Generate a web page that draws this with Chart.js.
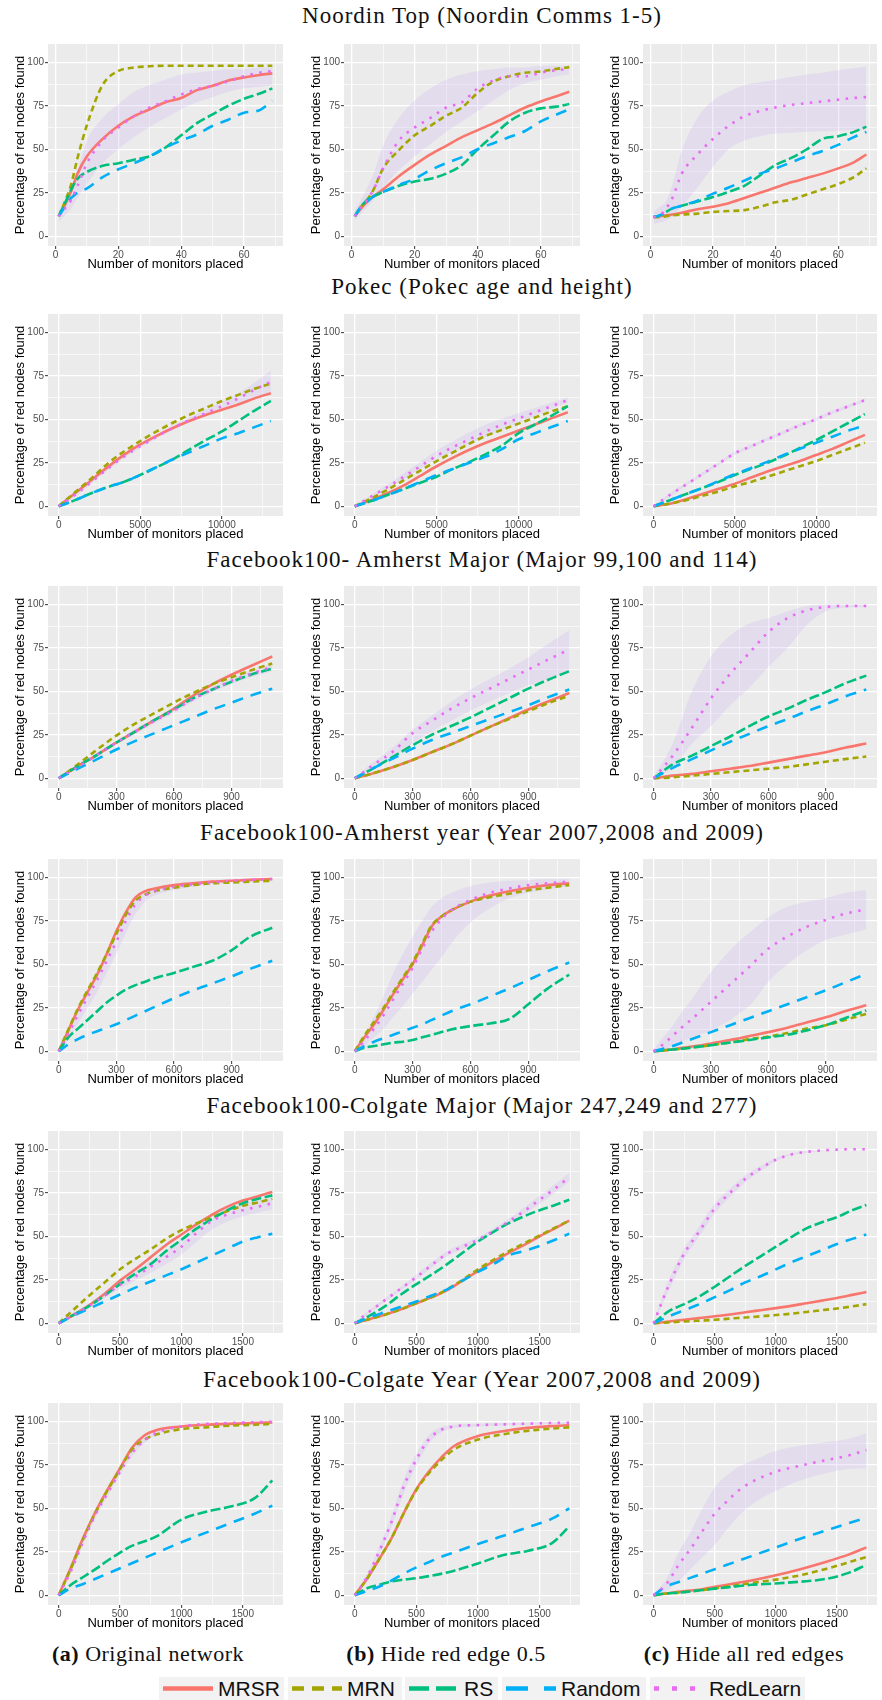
<!DOCTYPE html>
<html>
<head>
<meta charset="utf-8">
<script src="https://cdn.jsdelivr.net/npm/chart.js@4.4.1/dist/chart.umd.min.js"></script>
<style>
  body { margin: 0; background: #fff; }
  #fig { position: relative; width: 882px; height: 1700px; background: #fff; overflow: hidden; }
  #fig canvas { position: absolute; }
  .row-title, .caption {
    position: absolute; white-space: nowrap; transform: translate(-50%, -50%);
    font-family: 'Liberation Serif', 'Times New Roman', serif; color: #111;
  }
  .row-title { font-size: 23px; letter-spacing: 1px; }
  .caption { font-size: 22px; letter-spacing: 0.5px; }
  .caption b { font-weight: bold; }
  .legend-item {
    position: absolute; top: 1677px; height: 23px; background: #F2F2F2;
    display: flex; align-items: center;
    font-family: 'Liberation Sans', Arial, sans-serif; font-size: 21px; color: #111;
  }
  .legend-item svg { margin: 0 5px 0 4px; }
</style>
</head>
<body>
<div id="fig"></div>
<script>
// ---------- data ----------
const yTicks = [0, 25, 50, 75, 100];

// Noordin Top
const noordinX = [1, 3, 5, 7, 10, 15, 20, 25, 30, 35, 40, 45, 50, 55, 60, 65, 69];
const noordinXTicks = [0, 20, 40, 60];
const noordinA_MRSR = [11.5, 18, 26, 36, 46, 56, 63.5, 69, 73, 77, 79.5, 84, 86.5, 89.5, 91.3, 92.7, 93.6];
const noordinA_MRN = [11.5, 20, 30, 45, 64, 87, 95, 97, 97.7, 98, 98, 98, 98, 98, 98, 98, 98];
const noordinA_RS = [11.5, 19, 27, 33, 37, 40.5, 42, 44, 46, 51, 58, 65, 70, 75, 79, 82, 85];
const noordinA_Random = [11.5, 17, 22, 25, 27.5, 34, 38.5, 42, 46, 51, 55, 58.5, 63.5, 67, 71, 72.5, 77.8];
const noordinA_RedLearn = [11.5, 16, 21, 29, 42, 55, 62.5, 69, 74, 77.5, 81.5, 84.5, 86.5, 89, 92, 94, 95];
const noordinA_lo = [8, 12, 16, 22, 30, 42, 50, 57, 63, 68, 73, 77, 80, 83, 85, 86, 87];
const noordinA_hi = [15, 20, 28, 38, 55, 68, 76, 83, 87, 90, 93, 94, 95, 96, 96, 97, 97];

const noordinB_MRSR = [11.5, 16, 20, 23, 27, 34.5, 41, 47, 52, 57, 61, 65, 69.5, 74, 77.5, 80.5, 83];
const noordinB_MRN = [11.5, 17, 21, 27, 39, 49.5, 58, 63.5, 69.3, 74, 82.5, 89, 92, 94, 94.7, 96.2, 97.2];
const noordinB_RS = [11.5, 17, 21, 23, 25.5, 29, 31.5, 33, 36, 41, 50, 58, 66, 71, 73.5, 74.5, 76];
const noordinB_Random = [11.5, 17, 20, 23, 25.5, 29.5, 33, 38, 42, 45.5, 50, 53.5, 57, 60.5, 66, 70, 73];
const noordinB_RedLearn = [11.5, 17, 21, 27, 39, 55, 62.5, 68, 74, 77, 85, 89.5, 92, 92, 94, 95.5, 96];
const noordinB_lo = [9, 13, 17, 21, 28, 38, 46, 53, 60, 66, 72, 78, 84, 88, 90, 92, 93];
const noordinB_hi = [15, 21, 28, 36, 52, 68, 78, 85, 90, 93, 95, 96, 97, 97, 98, 98, 98];

const noordinC_MRSR = [11, 11.5, 12, 12.5, 13.5, 15.5, 17, 19, 22, 25, 28, 31, 33.5, 36, 39, 42.5, 47];
const noordinC_MRN = [11, 11, 11.5, 12, 12.5, 13, 14, 14.5, 15, 17, 19.5, 21, 24, 27, 30, 34, 39];
const noordinC_RS = [11, 12, 14, 16, 17.5, 20, 22.5, 25.5, 29, 35, 41, 45, 50, 56, 57.5, 60, 63];
const noordinC_Random = [11, 12, 14, 16, 17.5, 20.5, 24.5, 28, 32, 36, 39, 42.5, 46, 49, 52.5, 57, 60];
const noordinC_RedLearn = [11, 12, 16, 22, 36, 47, 56, 63.5, 69, 72, 74, 75.5, 76.5, 77.5, 78.5, 79.5, 80];
const noordinC_lo = [7, 8, 9, 11, 17, 28, 40, 50, 55, 57.5, 59, 59.5, 60, 60.3, 60.5, 61, 61];
const noordinC_hi = [14, 17, 20, 30, 49, 68, 78, 83, 87, 88.5, 90, 91.5, 93, 94, 95.5, 96.5, 97.5];

// Pokec
const pokecX = [0, 1000, 2000, 3000, 4000, 5000, 6000, 7000, 8000, 9000, 10000, 11000, 12000, 13000];
const pokecXTicks = [0, 5000, 10000];
const pokecA_MRSR = [0, 7.5, 15, 22.5, 29.5, 35.5, 40.5, 45, 49, 52.5, 55.5, 58.5, 62, 65];
const pokecA_MRN = [0, 8, 16, 24.5, 31.5, 37.5, 43, 48, 52.5, 56.5, 60.5, 64, 67.5, 70.5];
const pokecA_RS = [0, 3.5, 7.5, 11, 14, 18, 22.5, 27, 32.5, 38, 43, 49, 55, 60.5];
const pokecA_Random = [0, 3.5, 7.5, 11, 14, 18, 22.5, 27, 31, 35, 39, 42, 45.5, 49];
const pokecA_RedLearn = [0, 6.5, 14, 21.5, 28.5, 34.5, 40, 45, 49.5, 53.5, 57.5, 62, 67, 71.5];
const pokecA_lo = [0, 5.5, 13, 20.5, 27.5, 33.5, 39, 44, 48.5, 52, 55.5, 59, 62.5, 65.5];
const pokecA_hi = [0.5, 7.5, 15, 22.5, 29.5, 35.5, 41, 46.5, 51, 55.5, 60, 65, 71, 78];

const pokecB_MRSR = [0, 3.5, 7.5, 12, 17.5, 23, 28, 32.5, 36.5, 40, 43.5, 47, 50.5, 54];
const pokecB_MRN = [0, 4.5, 9.5, 15, 20.5, 26, 31, 36, 40.5, 44, 47.5, 51, 54.5, 57.5];
const pokecB_RS = [0, 3, 6.5, 10, 13.5, 17, 21.5, 25.5, 30, 35, 42, 47, 52, 57.5];
const pokecB_Random = [0, 3, 6.5, 10, 14, 18, 21.5, 25, 28.5, 33, 38.5, 42, 45.5, 49];
const pokecB_RedLearn = [0, 5.5, 11, 17, 23, 29, 34, 38.5, 43, 47, 50.5, 54, 57.5, 61];
const pokecB_lo = [0, 4.5, 10, 15.5, 21.5, 27, 31.5, 35.5, 40, 44, 48, 52, 56, 59.5];
const pokecB_hi = [0.5, 6.5, 12.5, 19, 25.5, 32, 37.5, 42.5, 47, 50.5, 53.5, 56.5, 59.5, 62.5];

const pokecC_MRSR = [0, 1.5, 4, 7, 10, 13, 16.5, 20, 23, 26, 29.5, 33, 37, 41];
const pokecC_MRN = [0, 1.5, 3.5, 6, 8.5, 11.5, 14, 17, 20, 23, 26, 29.5, 33, 36.5];
const pokecC_RS = [0, 3.5, 7, 10.5, 14, 18, 21.5, 25, 29, 33.5, 38, 43, 48, 53];
const pokecC_Random = [0, 3.5, 7, 10.5, 14.5, 18.5, 22, 25.5, 29.5, 33, 36.5, 40, 43.5, 46.5];
const pokecC_RedLearn = [0, 6.5, 12.5, 18.5, 24.5, 30.5, 34.5, 38.5, 42.5, 46.5, 50, 54, 57.5, 61];
const pokecC_lo = [0, 5.5, 11.5, 17.5, 23.5, 29.5, 33.5, 37.5, 41.5, 45.5, 49, 53, 56.5, 60];
const pokecC_hi = [0.5, 7.5, 13.5, 19.5, 25.5, 31.5, 35.5, 39.5, 43.5, 47.5, 51, 55, 58.5, 62];

// Facebook100 Amherst Major
const amMajorX = [0, 100, 200, 300, 400, 500, 600, 700, 800, 900, 1000, 1112];
const amherstXTicks = [0, 300, 600, 900];
const amMajorA_MRSR = [0, 7, 13.5, 20.5, 27, 33.5, 40, 47.5, 54, 59.5, 64.5, 70];
const amMajorA_MRN = [0, 8, 16.5, 24.5, 31.5, 37.5, 43.5, 49, 54, 58, 62, 66];
const amMajorA_RS = [0, 7, 13.5, 20.5, 27, 33.5, 39.5, 46, 51, 55.5, 59.5, 63];
const amMajorA_Random = [0, 5.5, 11, 16.5, 21.5, 26, 30.5, 35, 39.5, 43.5, 47.5, 51.5];
const amMajorA_RedLearn = [0, 6.5, 13.5, 20.5, 27, 33, 39, 45.5, 51, 56, 60, 64];
const amMajorA_lo = [0, 5.5, 12.5, 19.5, 25.5, 31.5, 37.5, 44, 49.5, 54, 58, 61.5];
const amMajorA_hi = [0.5, 7.5, 14.5, 21.5, 28.5, 34.5, 40.5, 47, 52.5, 57.5, 62, 66];

const amMajorB_MRSR = [0, 3, 6.5, 10.5, 15, 19.5, 24.5, 29.5, 34.5, 39.5, 44, 49];
const amMajorB_MRN = [0, 3, 6.5, 10.5, 15, 19.5, 24.5, 29.5, 34, 38.5, 43, 47.5];
const amMajorB_RS = [0, 6, 12.5, 19, 25, 30, 35, 40.5, 46, 51.5, 56.5, 61.5];
const amMajorB_Random = [0, 6, 11.5, 17, 22, 26, 30, 34, 38, 42, 46.5, 51];
const amMajorB_RedLearn = [0, 8, 15.5, 26, 33, 40, 46, 51.5, 57, 62.5, 68, 74];
const amMajorB_lo = [0, 6, 12, 20, 27, 33, 39, 44, 49, 53.5, 57, 61];
const amMajorB_hi = [0.5, 9.5, 18, 28, 36, 44, 51, 57, 63, 69.5, 77, 85];

const amMajorC_MRSR = [0, 1.5, 2.5, 4, 5.5, 7, 9, 11, 13, 15, 17.5, 20];
const amMajorC_MRN = [0, 0.5, 1.5, 2.5, 3.5, 4.5, 5.5, 6.5, 8, 9.5, 11, 12.5];
const amMajorC_RS = [0, 8, 13, 18.5, 24, 30, 35.5, 40, 45, 49.5, 54.5, 59];
const amMajorC_Random = [0, 6, 11, 16, 21, 25.5, 30, 34, 38.5, 42.5, 47, 51];
const amMajorC_RedLearn = [0, 13, 29, 46, 60, 72, 84, 92, 96.5, 98.5, 99, 99];
const amMajorC_lo = [0, 6, 20, 30, 42, 52, 64, 75, 88, 96, 98, 98.5];
const amMajorC_hi = [1, 20, 50, 70, 82, 89, 92, 96, 99, 100, 100, 100];

// Facebook100 Amherst year
const amYearX = [0, 50, 100, 150, 200, 250, 300, 350, 400, 450, 500, 600, 700, 800, 900, 1000, 1112];
const amYearA_MRSR = [0, 12, 24, 34, 44, 56, 69, 80, 88.5, 92, 93.5, 95.5, 96.5, 97.5, 98, 98.5, 99];
const amYearA_MRN = [0, 12.5, 24.5, 35, 45, 56, 67.5, 78.5, 86.5, 90, 92, 94, 95.5, 96.5, 97, 97.5, 98];
const amYearA_RS = [0, 8, 13, 18, 23, 28, 32, 35.5, 38, 40, 42, 45, 48.5, 52, 58, 66, 71];
const amYearA_Random = [0, 4, 7, 9.5, 11.5, 13.5, 15.5, 18, 20.5, 23, 25.5, 30.5, 35, 39, 43, 47.5, 52];
const amYearA_RedLearn = [0, 10, 21, 31, 41, 52, 63, 75, 84.5, 89.5, 92, 94.5, 96, 97, 98, 98.5, 99];
const amYearA_lo = [0, 7, 16, 25, 34, 45, 56, 68, 79, 86, 89.5, 92.5, 94.5, 96, 97, 97.5, 98];
const amYearA_hi = [0.5, 13, 25, 35, 46, 57, 68, 79, 88, 92, 94, 96, 97.5, 98.5, 99, 99.5, 99.8];

const amYearB_MRSR = [0, 8, 15.5, 24, 33, 41.5, 50, 61, 72, 77.5, 81, 86, 89.5, 92, 94, 95.5, 96.5];
const amYearB_MRN = [0, 9, 17, 25, 34, 42.5, 51, 62, 72.5, 77.5, 81, 86, 88.5, 90.5, 92.5, 94, 95.5];
const amYearB_RS = [0, 2, 3, 4, 5, 5.5, 6.5, 8, 9.5, 11, 12.5, 14.5, 16, 18.5, 27, 36, 44];
const amYearB_Random = [0, 3, 5.5, 7.5, 9.5, 11.5, 13.5, 15.5, 18, 20.5, 23, 27, 31.5, 36, 41, 46, 51];
const amYearB_RedLearn = [0, 6, 13, 21, 30, 39, 48, 59, 69, 76, 81, 87, 91, 93.5, 95.5, 96.5, 97.5];
const amYearB_lo = [0, 3, 8, 13, 20, 26, 33, 40, 47, 54, 62, 74, 82, 88, 91, 93, 95];
const amYearB_hi = [0.5, 9, 20, 32, 45, 56, 66, 75, 83, 88, 91, 95, 97, 98, 98.5, 99, 99];

const amYearC_MRSR = [0, 0.5, 1.2, 2, 2.7, 3.5, 4.5, 5.5, 6.5, 7.5, 8.8, 11, 13.5, 16.5, 19.5, 23, 26.5];
const amYearC_MRN = [0, 0.5, 1, 1.5, 2.2, 2.8, 3.5, 4.3, 5, 6, 7, 8.5, 10.5, 13, 15, 18, 21.5];
const amYearC_RS = [0, 0.5, 1, 1.5, 2.2, 2.8, 3.5, 4.3, 5, 5.7, 6.5, 8, 9.5, 12, 15, 19, 23.5];
const amYearC_Random = [0, 1.5, 3, 5, 7, 9, 11, 13, 15, 17, 19, 23, 27, 31, 35, 39.5, 44.5];
const amYearC_RedLearn = [0, 4, 9, 14, 18.5, 23.5, 28.5, 33.5, 38.5, 43.5, 48.5, 59, 66, 71.5, 75.5, 79, 81.5];
const amYearC_lo = [0, 1, 3, 5.5, 8, 10, 12, 15, 18, 22, 26, 40, 50, 58, 64, 67, 70];
const amYearC_hi = [1, 8, 15, 23, 30, 38, 45.5, 52, 58, 63.5, 68, 77, 83, 86, 88, 91, 92.5];

// Facebook100 Colgate Major
const coMajorX = [0, 125, 250, 375, 500, 625, 750, 875, 1000, 1125, 1250, 1375, 1500, 1625, 1740];
const colgateXTicks = [0, 500, 1000, 1500];
const coMajorA_MRSR = [0, 5, 10.5, 17, 24.5, 31, 38, 45, 51, 57, 62.5, 67, 70.5, 73, 75.5];
const coMajorA_MRN = [0, 8, 16, 23.5, 31, 37, 42.5, 48.5, 53.5, 57.5, 61, 64.5, 67.5, 69.5, 71.5];
const coMajorA_RS = [0, 5, 10, 16, 22.5, 28.5, 34, 41.5, 48, 54.5, 60, 65, 69, 71.5, 73.5];
const coMajorA_Random = [0, 4.5, 8.5, 12.5, 16.5, 20.5, 24, 27.5, 31, 35, 39, 43, 47, 49.5, 51.5];
const coMajorA_RedLearn = [0, 5, 10, 16, 22, 27, 32.5, 38, 44, 52, 59, 62.5, 65, 67, 69];
const coMajorA_lo = [0, 4, 9, 14.5, 20, 24.5, 29, 34, 39.5, 47, 54, 58.5, 61.5, 63.5, 65.5];
const coMajorA_hi = [0.5, 6, 11.5, 17.5, 24, 30, 36, 42, 48.5, 56, 62, 66, 68.5, 70.5, 72];

const coMajorB_MRSR = [0, 2.5, 5, 8, 11.5, 15, 19, 24.5, 30, 35.5, 40.5, 45, 50, 54.5, 59];
const coMajorB_MRN = [0, 2.5, 5, 8, 11.5, 15, 19.5, 25, 31, 36.5, 41.5, 46, 50.5, 55, 59];
const coMajorB_RS = [0, 4.5, 10, 16.5, 22.5, 28, 34, 40.5, 47, 52.5, 57.5, 61.5, 65, 68, 71];
const coMajorB_Random = [0, 3.5, 6.5, 9.5, 12.5, 16, 19.5, 24.5, 29.5, 34, 39, 41.5, 44.5, 48, 51.5];
const coMajorB_RedLearn = [0, 7, 13.5, 20, 26.5, 33.5, 40, 44, 48, 53, 58.5, 64.5, 71, 77.5, 84];
const coMajorB_lo = [0, 6, 12.5, 19, 25, 32, 38.5, 42.5, 46.5, 51.5, 57, 62.5, 68.5, 75, 81.5];
const coMajorB_hi = [0.5, 8, 14.5, 21, 28, 35, 41.5, 45.5, 49.5, 54.5, 60, 66.5, 73.5, 80, 86.5];

const coMajorC_MRSR = [0, 1, 2, 3, 4, 5, 6.3, 7.5, 8.7, 10, 11.5, 13, 14.5, 16.3, 18];
const coMajorC_MRN = [0, 0.5, 1, 1.5, 2, 2.7, 3.3, 4, 4.7, 5.5, 6.5, 7.5, 8.5, 9.7, 11];
const coMajorC_RS = [0, 7, 11, 15.5, 21, 27, 33, 38.5, 44, 49.5, 54.5, 58, 61, 65, 68];
const coMajorC_Random = [0, 4, 7.5, 11, 15, 19, 23.5, 27, 31, 35, 38.5, 42, 45.5, 48.5, 51];
const coMajorC_RedLearn = [0, 22, 40, 53, 66, 75, 83, 89, 94, 97, 98.5, 99.3, 99.8, 100, 100];
const coMajorC_lo = [0, 19, 37, 50, 63, 72.5, 81, 87.5, 93, 96.5, 98, 99, 99.5, 99.8, 99.8];
const coMajorC_hi = [1, 25, 43, 56, 69, 77.5, 85, 90.5, 95, 97.5, 99, 99.6, 100, 100, 100];

// Facebook100 Colgate Year
const coYearX = [0, 100, 200, 300, 400, 500, 600, 700, 800, 1000, 1200, 1400, 1600, 1740];
const coYearA_MRSR = [0, 16, 33, 48, 61, 73, 85, 92, 95, 97, 98, 98.5, 99, 99.3];
const coYearA_MRN = [0, 15.5, 32.5, 47.5, 60.5, 72.5, 84, 89.5, 92.5, 95.5, 96.5, 97.5, 98, 98.5];
const coYearA_RS = [0, 6, 10.5, 15, 20, 24.5, 28.5, 31, 34, 43.5, 48, 51, 56, 66];
const coYearA_Random = [0, 4, 6.5, 9.5, 12.5, 15.5, 18.5, 21.5, 24.5, 30.5, 36, 41.5, 47, 51.5];
const coYearA_RedLearn = [0, 14, 31, 46.5, 59, 71, 82, 89, 93.5, 97, 98.5, 99, 99.5, 99.7];
const coYearA_lo = [0, 12.5, 29, 44.5, 57, 69, 80, 87.5, 92.5, 96.5, 98, 98.5, 99, 99.2];
const coYearA_hi = [0.5, 15.5, 33, 48.5, 61, 73, 84, 90.5, 94.5, 97.5, 99, 99.5, 100, 100];

const coYearB_MRSR = [0, 9.5, 21, 33, 47.5, 61, 71, 79, 85.5, 91.5, 94.3, 96.2, 97.2, 97.7];
const coYearB_MRN = [0, 9.5, 21, 33, 47.5, 60.5, 70, 77.5, 83.5, 89.5, 92.5, 94.5, 95.8, 96.5];
const coYearB_RS = [0, 4, 6, 8, 9, 9.8, 11, 12.3, 14, 18.3, 23, 25.5, 30, 39.5];
const coYearB_Random = [0, 2.5, 5, 8.5, 12.5, 16, 19, 22, 24.5, 29.5, 34, 39, 44, 50];
const coYearB_RedLearn = [0, 10.5, 25.5, 42.5, 63, 78, 89.5, 95, 97, 97.8, 98.2, 98.6, 99, 99.2];
const coYearB_lo = [0, 8.5, 23, 39.5, 59, 74.5, 87, 93.5, 96, 97, 97.5, 98, 98.4, 98.6];
const coYearB_hi = [0.5, 12.5, 28, 46, 67, 81.5, 92, 96.5, 98, 98.6, 99, 99.3, 99.6, 99.8];

const coYearC_MRSR = [0, 1, 2, 2.7, 3.5, 4.9, 6, 7.3, 8.5, 11.5, 15, 19, 23.5, 27.5];
const coYearC_MRN = [0, 1, 1.5, 2.2, 3, 4, 5, 6, 7, 9, 11.5, 15, 19, 22];
const coYearC_RS = [0, 1, 1.5, 2.2, 3, 3.8, 4.5, 5.3, 6, 6.8, 7.8, 9.3, 13, 17.5];
const coYearC_Random = [0, 5, 7.5, 10, 12.5, 15, 17.5, 20, 22.5, 27.5, 32.5, 37, 41.5, 44.5];
const coYearC_RedLearn = [0, 6, 17, 26.5, 37, 47, 54, 60.5, 65, 71, 74.5, 77.5, 80.5, 83.5];
const coYearC_lo = [0, 2, 8, 15, 22, 29, 38, 46, 52, 60, 66, 70, 72.5, 73];
const coYearC_hi = [1, 9, 24, 36, 50, 62, 69, 74, 77, 83, 86, 88, 90, 93];

const rowTitles = [
  'Noordin Top (Noordin Comms 1-5)',
  'Pokec (Pokec age and height)',
  'Facebook100- Amherst Major (Major 99,100 and 114)',
  'Facebook100-Amherst year (Year 2007,2008 and 2009)',
  'Facebook100-Colgate Major (Major 247,249 and 277)',
  'Facebook100-Colgate Year (Year 2007,2008 and 2009)'
];
const captionTags = ['(a)', '(b)', '(c)'];
const captionTexts = ['Original network', 'Hide red edge 0.5', 'Hide all red edges'];
const seriesNames = ['MRSR', 'MRN', 'RS', 'Random', 'RedLearn'];

// ---------- styles / layout ----------
const COLORS = ['#F8766D', '#A3A500', '#00BF7D', '#00B0F6', '#E76BF3'];
const DASHES = [[], [6, 4], [10, 3.5], [11, 8], [2.5, 6.5]];
const RIBBON = 'rgba(196, 160, 240, 0.2)';
const COL_L = [48, 344, 643];
const COL_R = [283, 580, 877];
const ROW_T = [41, 311, 583, 856, 1128, 1400];
const TITLE_Y = [16, 287, 560, 833, 1106, 1380];
const PLOT_H = 205;
const Y_AXIS_W = 46, X_AXIS_H = 26, PAD_TOP = 4, PAD_RIGHT = 4;
const Y_RANGE = [-5.6, 110.5];

const xAxes = [
  { range: [-2.4, 72.4], ticks: noordinXTicks },
  { range: [-654, 13744], ticks: pokecXTicks },
  { range: [-56, 1168], ticks: amherstXTicks },
  { range: [-56, 1168], ticks: amherstXTicks },
  { range: [-87, 1827], ticks: colgateXTicks },
  { range: [-87, 1827], ticks: colgateXTicks }
];

const panels = [
  [0, noordinX, [[noordinA_MRSR, noordinA_MRN, noordinA_RS, noordinA_Random, noordinA_RedLearn, noordinA_lo, noordinA_hi],
                 [noordinB_MRSR, noordinB_MRN, noordinB_RS, noordinB_Random, noordinB_RedLearn, noordinB_lo, noordinB_hi],
                 [noordinC_MRSR, noordinC_MRN, noordinC_RS, noordinC_Random, noordinC_RedLearn, noordinC_lo, noordinC_hi]]],
  [1, pokecX, [[pokecA_MRSR, pokecA_MRN, pokecA_RS, pokecA_Random, pokecA_RedLearn, pokecA_lo, pokecA_hi],
               [pokecB_MRSR, pokecB_MRN, pokecB_RS, pokecB_Random, pokecB_RedLearn, pokecB_lo, pokecB_hi],
               [pokecC_MRSR, pokecC_MRN, pokecC_RS, pokecC_Random, pokecC_RedLearn, pokecC_lo, pokecC_hi]]],
  [2, amMajorX, [[amMajorA_MRSR, amMajorA_MRN, amMajorA_RS, amMajorA_Random, amMajorA_RedLearn, amMajorA_lo, amMajorA_hi],
                 [amMajorB_MRSR, amMajorB_MRN, amMajorB_RS, amMajorB_Random, amMajorB_RedLearn, amMajorB_lo, amMajorB_hi],
                 [amMajorC_MRSR, amMajorC_MRN, amMajorC_RS, amMajorC_Random, amMajorC_RedLearn, amMajorC_lo, amMajorC_hi]]],
  [3, amYearX, [[amYearA_MRSR, amYearA_MRN, amYearA_RS, amYearA_Random, amYearA_RedLearn, amYearA_lo, amYearA_hi],
                [amYearB_MRSR, amYearB_MRN, amYearB_RS, amYearB_Random, amYearB_RedLearn, amYearB_lo, amYearB_hi],
                [amYearC_MRSR, amYearC_MRN, amYearC_RS, amYearC_Random, amYearC_RedLearn, amYearC_lo, amYearC_hi]]],
  [4, coMajorX, [[coMajorA_MRSR, coMajorA_MRN, coMajorA_RS, coMajorA_Random, coMajorA_RedLearn, coMajorA_lo, coMajorA_hi],
                 [coMajorB_MRSR, coMajorB_MRN, coMajorB_RS, coMajorB_Random, coMajorB_RedLearn, coMajorB_lo, coMajorB_hi],
                 [coMajorC_MRSR, coMajorC_MRN, coMajorC_RS, coMajorC_Random, coMajorC_RedLearn, coMajorC_lo, coMajorC_hi]]],
  [5, coYearX, [[coYearA_MRSR, coYearA_MRN, coYearA_RS, coYearA_Random, coYearA_RedLearn, coYearA_lo, coYearA_hi],
                [coYearB_MRSR, coYearB_MRN, coYearB_RS, coYearB_Random, coYearB_RedLearn, coYearB_lo, coYearB_hi],
                [coYearC_MRSR, coYearC_MRN, coYearC_RS, coYearC_Random, coYearC_RedLearn, coYearC_lo, coYearC_hi]]]
];

const fig = document.getElementById('fig');
const pts = (xs, ys) => xs.map((x, i) => ({ x, y: ys[i] }));

// grey panel background like ggplot
const panelBg = {
  id: 'panelBg',
  beforeDraw(chart) {
    const { ctx, chartArea: a } = chart;
    ctx.save();
    ctx.fillStyle = '#EBEBEB';
    ctx.fillRect(a.left, a.top, a.right - a.left, a.bottom - a.top);
    ctx.restore();
  }
};

// majors plus the minor lines half way between them
function withMinors(majors, range) {
  const half = (majors[1] - majors[0]) / 2;
  const out = [];
  for (let v = majors[0] - half; v <= range[1]; v += half) {
    if (v >= range[0]) out.push(v);
  }
  return out;
}

function axis(range, majors, title, isY) {
  const all = withMinors(majors, range);
  const isMajor = v => majors.includes(v);
  return {
    type: 'linear',
    min: range[0],
    max: range[1],
    afterBuildTicks: s => { s.ticks = all.map(v => ({ value: v })); },
    afterFit: s => { if (isY) s.width = Y_AXIS_W; else s.height = X_AXIS_H; },
    border: { display: false },
    grid: {
      color: '#FFFFFF',
      lineWidth: c => (c.tick && isMajor(c.tick.value)) ? 1.3 : 0.6,
      tickLength: 3,
      tickWidth: 1,
      tickColor: c => (c.tick && isMajor(c.tick.value)) ? '#333333' : 'rgba(0,0,0,0)'
    },
    ticks: {
      autoSkip: false,
      maxRotation: 0,
      padding: isY ? 1 : 0,
      color: '#4D4D4D',
      font: { family: 'Liberation Sans', size: 10 },
      callback: v => isMajor(v) ? String(v) : ''
    },
    title: {
      display: true,
      text: title,
      color: '#000000',
      font: { family: 'Liberation Sans', size: 13 },
      padding: isY ? { top: 11, bottom: 0 } : { top: 0, bottom: 0 }
    }
  };
}

function drawPanel(row, col, xs, s) {
  const L = COL_L[col], R = COL_R[col], T = ROW_T[row];
  const canvas = document.createElement('canvas');
  canvas.width = (R - L) + Y_AXIS_W + PAD_RIGHT;
  canvas.height = PAD_TOP + PLOT_H + X_AXIS_H;
  canvas.style.left = (L - Y_AXIS_W) + 'px';
  canvas.style.top = (T - PAD_TOP) + 'px';
  fig.appendChild(canvas);

  // first dataset is painted last (on top): RedLearn, Random, RS, MRN, MRSR, then ribbon
  const datasets = [];
  for (let k = 4; k >= 0; k--) {
    datasets.push({
      label: seriesNames[k],
      data: pts(xs, s[k]),
      borderColor: COLORS[k],
      borderDash: DASHES[k],
      borderWidth: 2.6,
      fill: false
    });
  }
  datasets.push({ label: 'hi', data: pts(xs, s[6]), borderWidth: 0, borderColor: 'rgba(0,0,0,0)', backgroundColor: RIBBON, fill: '+1' });
  datasets.push({ label: 'lo', data: pts(xs, s[5]), borderWidth: 0, borderColor: 'rgba(0,0,0,0)', fill: false });

  const xa = xAxes[row];
  new Chart(canvas, {
    type: 'line',
    data: { datasets },
    options: {
      responsive: false,
      animation: false,
      devicePixelRatio: 1,
      layout: { padding: { top: PAD_TOP, right: PAD_RIGHT, left: 0, bottom: 0 } },
      elements: {
        point: { radius: 0 },
        line: { cubicInterpolationMode: 'monotone', borderCapStyle: 'butt', borderJoinStyle: 'round' }
      },
      plugins: {
        legend: { display: false },
        tooltip: { enabled: false },
        filler: { drawTime: 'beforeDatasetsDraw' }
      },
      scales: {
        x: axis(xa.range, xa.ticks, 'Number of monitors placed', false),
        y: axis(Y_RANGE, yTicks, 'Percentage of red nodes found', true)
      }
    },
    plugins: [panelBg]
  });
}

panels.forEach(([row, xs, cols]) => {
  cols.forEach((s, col) => drawPanel(row, col, xs, s));
});

// row titles
rowTitles.forEach((t, i) => {
  const d = document.createElement('div');
  d.className = 'row-title';
  d.textContent = t;
  d.style.left = '482px';
  d.style.top = TITLE_Y[i] + 'px';
  fig.appendChild(d);
});

// column captions
const capX = [148, 446, 744];
captionTags.forEach((tag, i) => {
  const d = document.createElement('div');
  d.className = 'caption';
  d.innerHTML = '<b>' + tag + '</b> ' + captionTexts[i];
  d.style.left = capX[i] + 'px';
  d.style.top = '1654px';
  fig.appendChild(d);
});

// shared legend
const legLeft = [159, 288, 405, 502, 650];
const legWidth = [125, 114, 93, 144, 155];
seriesNames.forEach((name, k) => {
  const d = document.createElement('div');
  d.className = 'legend-item';
  d.style.left = legLeft[k] + 'px';
  d.style.width = legWidth[k] + 'px';
  const dash = DASHES[k].map(v => v * 2).join(' ');
  d.innerHTML = '<svg width="50" height="23"><line x1="0" y1="11.5" x2="50" y2="11.5" stroke="' + COLORS[k] +
    '" stroke-width="4.5"' + (dash ? ' stroke-dasharray="' + dash + '"' : '') + '/></svg><span>' + name + '</span>';
  fig.appendChild(d);
});
</script>
</body>
</html>
